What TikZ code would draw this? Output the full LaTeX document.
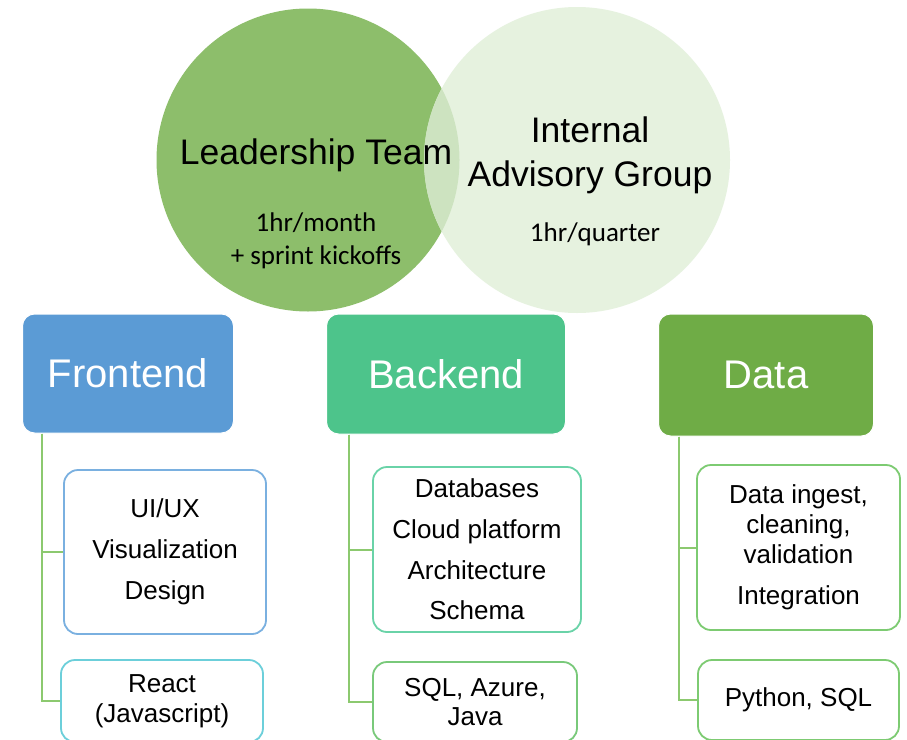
\documentclass[tikz,border=0pt]{standalone}
\usepackage{fontspec}
\setmainfont{Liberation Sans}
\newfontfamily\carl{Carlito}
\definecolor{leadgreen}{HTML}{8DBE6B}
\definecolor{advgreen}{HTML}{E6F2DF}
\definecolor{lensgreen}{HTML}{CDE3C0}
\definecolor{frontblue}{HTML}{5B9BD5}
\definecolor{backgreen}{HTML}{4DC48B}
\definecolor{datagreen}{HTML}{6FAC46}
\definecolor{fonebd}{HTML}{7AB0E0}
\definecolor{ftwobd}{HTML}{6CCFDA}
\definecolor{bonebd}{HTML}{6AD3A8}
\definecolor{btwobd}{HTML}{79C97A}
\definecolor{dbd}{HTML}{7DCB72}
\definecolor{conn}{HTML}{8CC96F}
\begin{document}
\begin{tikzpicture}[x=1pt,y=-1pt,
  header/.style={draw=white, line width=1pt, rounded corners=12pt, text=white,
    font=\fontsize{40}{46}\selectfont, inner sep=0pt},
  subbox/.style={draw, fill=white, line width=1.8pt, rounded corners=14pt,
    align=center, inner sep=0pt, font=\fontsize{26}{41}\selectfont},
  connector/.style={draw=conn, line width=2pt},
  bigtxt/.style={font=\fontsize{35.5}{44}\selectfont, align=center, inner sep=0pt},
  smalltxt/.style={font=\carl\fontsize{27}{33}\selectfont, align=center, inner sep=0pt}]
\useasboundingbox (0,0) rectangle (907,739);
\clip (0,0) rectangle (907,739);
\fill[white] (0,0) rectangle (907,739);
% Venn circles
\node[circle, fill=leadgreen, minimum size=303pt, inner sep=0pt] (lead) at (308,160) {};
\node[circle, fill=advgreen, minimum size=306pt, inner sep=0pt] (adv) at (577,160) {};
\begin{scope}
  \clip (308,160) circle (151.5);
  \fill[lensgreen] (577,160) circle (153);
\end{scope}
\node[bigtxt] (leadt) at (316,155) {Leadership Team};
\node[bigtxt] (advt) at (590,155) {Internal\\Advisory Group};
\node[smalltxt] (leadf) at (316,241) {1hr/month\\+ sprint kickoffs};
\node[smalltxt] (advf) at (595,234) {1hr/quarter};
% Headers
\node[header, fill=frontblue, minimum width=211pt, minimum height=119pt] (front) at (128,373.5) {Frontend};
\node[header, fill=backgreen, minimum width=239pt, minimum height=120pt] (back) at (446,374) {Backend};
\node[header, fill=datagreen, minimum width=215pt, minimum height=122pt] (data) at (766,375) {Data};
% Sub boxes
\node[subbox, draw=fonebd, minimum width=202pt, minimum height=164pt] (fone) at (165,552) {UI/UX\\Visualization\\Design};
\node[subbox, draw=ftwobd, minimum width=202pt, minimum height=82pt, font=\fontsize{26}{30}\selectfont] (ftwo) at (162,701) {React\\(Javascript)};
\node[subbox, draw=bonebd, minimum width=208pt, minimum height=165pt, font=\fontsize{26}{40.7}\selectfont] (bone) at (477,549.5) {Databases\\Cloud platform\\Architecture\\Schema};
\node[subbox, draw=btwobd, minimum width=204pt, minimum height=80pt, font=\fontsize{26}{29}\selectfont] (btwo) at (475,702) {SQL, Azure,\\Java};
\node[subbox, draw=dbd, minimum width=203pt, minimum height=165pt, font=\fontsize{26}{30}\selectfont] (done) at (798.5,547.5) {Data ingest,\\cleaning,\\validation\\[11pt]Integration};
\node[subbox, draw=dbd, minimum width=201pt, minimum height=80pt] (dtwo) at (798.5,700) {Python, SQL};
% Connectors
\coordinate (fs) at ([xshift=20pt]front.south west);
\coordinate (bs) at ([xshift=23pt]back.south west);
\coordinate (ds) at ([xshift=21pt]data.south west);
\draw[connector] (fs) |- (fone.west);
\draw[connector] (fs) |- (ftwo.west);
\draw[connector] (bs) |- (bone.west);
\draw[connector] (bs) |- (btwo.west);
\draw[connector] (ds) |- (done.west);
\draw[connector] (ds) |- (dtwo.west);
\end{tikzpicture}
\end{document}
